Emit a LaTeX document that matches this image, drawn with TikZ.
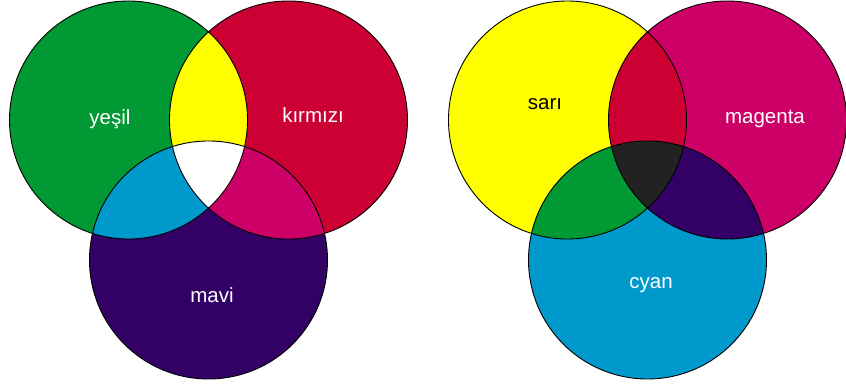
\documentclass[tikz,border=0pt]{standalone}
\usepackage{fontspec}
\setmainfont{Liberation Sans}
\definecolor{cgreen}{HTML}{009933}
\definecolor{cred}{HTML}{CC0033}
\definecolor{cblue}{HTML}{330066}
\definecolor{cyellow}{HTML}{FFFF00}
\definecolor{ccyan}{HTML}{0099CC}
\definecolor{cmagenta}{HTML}{CC0066}
\definecolor{cblack}{HTML}{222222}
\begin{document}
\begin{tikzpicture}[x=1pt,y=-1pt,
  outline/.style={draw=black,line width=0.9pt},
  lbl/.style={font=\fontsize{20.5}{20.5}\selectfont,text=white,inner sep=0pt}]
\useasboundingbox (0,0) rectangle (846,385);
\def\R{119}
% left diagram centres
\coordinate (G) at (128.5,120);
\coordinate (Rd) at (288.5,120);
\coordinate (B) at (208.5,260);
% right diagram centres
\coordinate (Y) at (567.5,120);
\coordinate (M) at (727.5,120);
\coordinate (C) at (647.5,260);
% ---- left: additive
\fill[cgreen] (G) circle (\R);
\fill[cred] (Rd) circle (\R);
\fill[cblue] (B) circle (\R);
\begin{scope}\clip (G) circle (\R); \fill[cyellow] (Rd) circle (\R); \fill[ccyan] (B) circle (\R); \end{scope}
\begin{scope}\clip (Rd) circle (\R); \fill[cmagenta] (B) circle (\R); \end{scope}
\begin{scope}\clip (G) circle (\R); \clip (Rd) circle (\R); \fill[white] (B) circle (\R); \end{scope}
\draw[outline] (G) circle (\R) (Rd) circle (\R) (B) circle (\R);
% ---- right: subtractive
\fill[cyellow] (Y) circle (\R);
\fill[cmagenta] (M) circle (\R);
\fill[ccyan] (C) circle (\R);
\begin{scope}\clip (Y) circle (\R); \fill[cred] (M) circle (\R); \fill[cgreen] (C) circle (\R); \end{scope}
\begin{scope}\clip (M) circle (\R); \fill[cblue] (C) circle (\R); \end{scope}
\begin{scope}\clip (Y) circle (\R); \clip (M) circle (\R); \fill[cblack] (C) circle (\R); \end{scope}
\draw[outline] (Y) circle (\R) (M) circle (\R) (C) circle (\R);
% ---- labels
\node[lbl] (tyesil) at (110,119) {yeşil};
\node[lbl] (tkirmizi) at (313,115) {kırmızı};
\node[lbl] (tmavi) at (212,295) {mavi};
\node[lbl,text=black] (tsari) at (545,104) {sarı};
\node[lbl] (tmagenta) at (765,119) {magenta};
\node[lbl] (tcyan) at (651,285) {cyan};
\end{tikzpicture}
\end{document}
